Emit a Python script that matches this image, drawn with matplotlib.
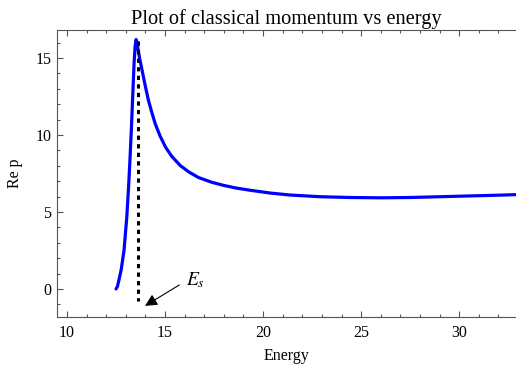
import numpy as np
import matplotlib
matplotlib.use('Agg')
import matplotlib.pyplot as plt
from matplotlib.ticker import MultipleLocator

# values
energy = [12.50, 12.57, 12.66, 12.76, 12.91, 13.05, 13.15, 13.21, 13.28, 13.35,
          13.42, 13.47, 13.52, 13.57, 13.63, 13.72, 13.83, 13.93, 14.04, 14.15,
          14.29, 14.49, 14.74, 15.03, 15.34, 15.77, 16.19, 16.70, 17.38, 17.98,
          18.60, 19.34, 20.36, 21.38, 22.91, 24.44, 26.00, 27.50, 29.00, 30.50,
          32.00, 33.00]
rep = [0.00, 0.15, 0.65, 1.23, 2.53, 4.69, 6.86, 8.38, 10.32, 12.49,
       14.65, 15.70, 16.20, 16.05, 15.50, 14.87, 14.20, 13.57, 12.90, 12.27,
       11.62, 10.76, 9.95, 9.20, 8.62, 8.02, 7.62, 7.24, 6.93, 6.73,
       6.56, 6.41, 6.23, 6.10, 5.99, 5.94, 5.92, 5.94, 5.99, 6.04,
       6.09, 6.13]

es_x = 13.62
es_top = 16.1
es_bottom = -0.8

plt.rcParams['font.family'] = ['Liberation Serif', 'DejaVu Serif']

fig = plt.figure(figsize=(5.16, 3.66), dpi=100)
ax = fig.add_axes([0.1105, 0.134, 0.8895, 0.784])

ax.plot(energy, rep, color='#0000ff', lw=2.3, solid_capstyle='round',
        solid_joinstyle='round')
ax.plot([es_x, es_x], [es_top, es_bottom], color='black', lw=2.2,
        linestyle=(0, (1.4, 1.4)))

ax.annotate('', xy=(13.98, -1.10), xytext=(15.73, 0.26),
            arrowprops=dict(arrowstyle='-|>', color='black', lw=0.8,
                            mutation_scale=18, shrinkA=0, shrinkB=0))
ax.text(16.05, 0.55, r'$E_s$', fontsize=14, ha='left', va='center',
        math_fontfamily='stix')

ax.set_xlim(9.49, 32.9)
ax.set_ylim(-1.82, 16.82)
ax.xaxis.set_major_locator(MultipleLocator(5))
ax.xaxis.set_minor_locator(MultipleLocator(1))
ax.yaxis.set_major_locator(MultipleLocator(5))
ax.yaxis.set_minor_locator(MultipleLocator(1))
ax.tick_params(which='both', direction='in', top=True, right=False,
               labelsize=11.5, color='#555555', width=0.8)
ax.tick_params(which='major', length=4.5)
ax.tick_params(which='minor', length=2.5)
ax.tick_params(axis='x', pad=6)
ax.tick_params(axis='y', pad=4)
for s in ['left', 'bottom', 'top']:
    ax.spines[s].set_color('#555555')
ax.spines['right'].set_visible(False)

ax.set_title('Plot of classical momentum vs energy', fontsize=14.7, pad=4)
ax.set_xlabel('Energy', fontsize=11.5, labelpad=5)
ax.set_ylabel('Re p', fontsize=11.5, labelpad=9)

fig.savefig('out.png', dpi=100)
